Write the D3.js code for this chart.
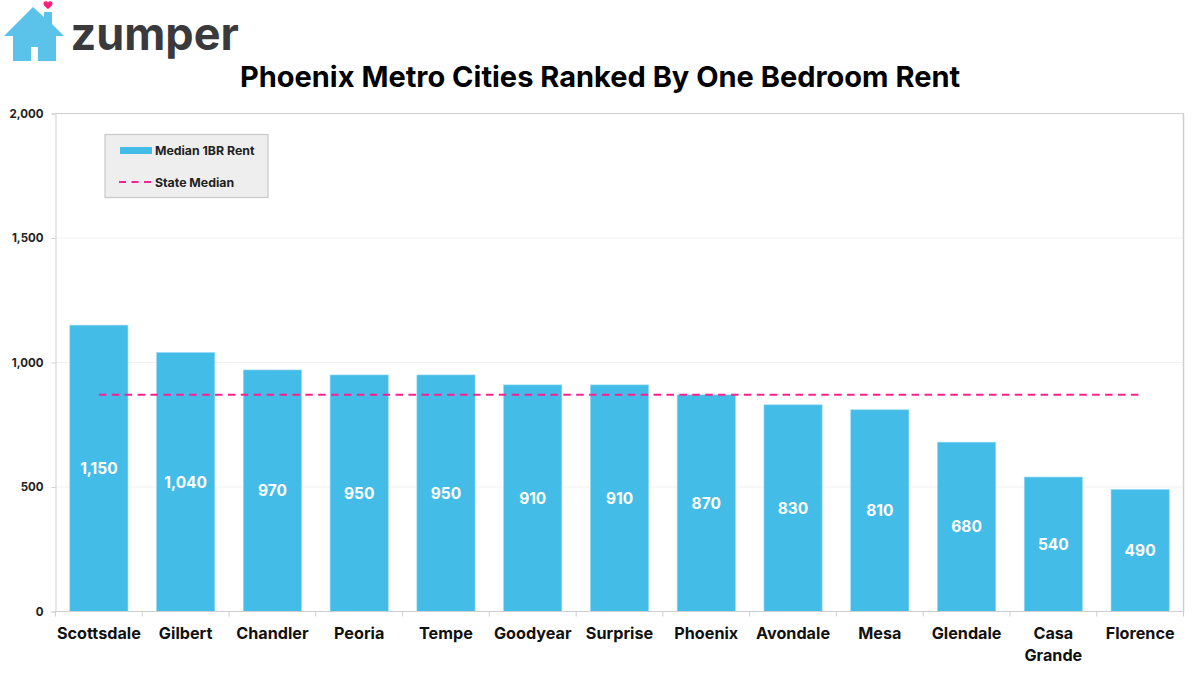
<!DOCTYPE html>
<html>
<head>
<meta charset="utf-8">
<script src="https://cdnjs.cloudflare.com/ajax/libs/d3/7.8.5/d3.min.js"></script>
<style>
html,body{margin:0;padding:0;background:#fff}
svg{display:block}
text{font-family:Inter,"Open Sans",sans-serif;font-weight:700;fill:#111}
</style>
</head>
<body>
<svg id="chart" width="1200" height="675"></svg>
<script>
const cities = ["Scottsdale","Gilbert","Chandler","Peoria","Tempe","Goodyear","Surprise","Phoenix","Avondale","Mesa","Glendale","Casa Grande","Florence"];
const rents = [1150,1040,970,950,950,910,910,870,830,810,680,540,490];
const stateMedian = 870;
const yTicks = [0,500,1000,1500,2000];
const chartTitle = "Phoenix Metro Cities Ranked By One Bedroom Rent";
const legendLabels = ["Median 1BR Rent","State Median"];

const barColor = "#44bce8", lineColor = "#ff1f8f", axisColor = "#cfcfcf";
const plotLeft = 55.5, plotRight = 1183.5, plotTop = 113.5, plotBottom = 611.5;

const svg = d3.select("#chart");
const x = d3.scaleBand().domain(cities).range([plotLeft,plotRight]).paddingInner(0.33).paddingOuter(0.165);
const y = d3.scaleLinear().domain([0,2000]).range([plotBottom,plotTop]);

// Horizontal gridlines
svg.append("g").selectAll("line").data(yTicks.filter(d=>d>0&&d<2000)).join("line")
  .attr("x1",plotLeft).attr("x2",plotRight).attr("y1",d=>y(d)).attr("y2",d=>y(d))
  .attr("stroke","#f1f1f1").attr("stroke-width",1);

// Frame along the top and right of the plot
svg.append("line").attr("x1",plotLeft).attr("x2",plotRight).attr("y1",plotTop).attr("y2",plotTop).attr("stroke",axisColor).attr("stroke-width",1);
svg.append("line").attr("x1",plotRight).attr("x2",plotRight).attr("y1",plotTop).attr("y2",plotBottom).attr("stroke",axisColor).attr("stroke-width",1.5);

// Bars
svg.append("g").selectAll("rect").data(rents).join("rect")
  .attr("x",(d,i)=>x(cities[i])).attr("width",x.bandwidth())
  .attr("y",d=>y(d)).attr("height",d=>y(0)-y(d))
  .attr("fill",barColor).attr("stroke","#8fd8f2").attr("stroke-width",0.6);

// Value labels at the middle of each bar
svg.append("g").selectAll("text").data(rents).join("text")
  .attr("x",(d,i)=>x(cities[i])+x.bandwidth()/2)
  .attr("y",d=>y(d/2)+5.5)
  .attr("text-anchor","middle").attr("font-size",15.5)
  .style("fill","#fff").text(d=>d3.format(",")(d));

// State median reference line
const medianLine = d3.line().x(d=>d).y(()=>y(stateMedian));
svg.append("path")
  .attr("d",medianLine([x(cities[0])+x.bandwidth()/2, x(cities[12])+x.bandwidth()/2]))
  .attr("fill","none").attr("stroke",lineColor).attr("stroke-width",2).attr("stroke-dasharray","7.5,5.4");

// Y axis
const yAxis = d3.axisLeft(y).tickValues(yTicks).tickSize(4).tickPadding(8).tickFormat(d3.format(","));
const gy = svg.append("g").attr("transform",`translate(${plotLeft},0)`).call(yAxis);
gy.selectAll("path,line").attr("stroke",axisColor).attr("stroke-width",1);
gy.selectAll("text").attr("font-size",11.5).style("fill","#222");

// X axis with ticks on the band edges
const gx = svg.append("g");
gx.append("line").attr("x1",plotLeft).attr("x2",plotRight).attr("y1",plotBottom).attr("y2",plotBottom).attr("stroke",axisColor).attr("stroke-width",1.2);
gx.selectAll("line.edge").data(d3.range(cities.length+1)).join("line").attr("class","edge")
  .attr("x1",i=>plotLeft+i*x.step()).attr("x2",i=>plotLeft+i*x.step())
  .attr("y1",plotBottom).attr("y2",plotBottom+5).attr("stroke",axisColor);
gx.selectAll("text").data(cities).join("text")
  .attr("x",d=>x(d)+x.bandwidth()/2).attr("y",639)
  .attr("text-anchor","middle").attr("font-size",16.2)
  .each(function(d){
    const t = d3.select(this), words = d.split(" ");
    words.forEach((w,i)=>t.append("tspan").attr("x",x(d)+x.bandwidth()/2).attr("dy",i?21.5:0).text(w));
  });

// Title
svg.append("text").attr("x",600).attr("y",87).attr("text-anchor","middle")
  .attr("font-size",29).style("fill","#000").text(chartTitle);

// Legend
const lg = svg.append("g");
lg.append("rect").attr("x",105).attr("y",134.5).attr("width",163).attr("height",63)
  .attr("fill","#eeeeee").attr("stroke","#c8c8c8").attr("stroke-width",1.2);
lg.append("rect").attr("x",120).attr("y",147).attr("width",32).attr("height",7).attr("fill",barColor);
lg.append("line").attr("x1",119).attr("x2",152).attr("y1",182).attr("y2",182)
  .attr("stroke",lineColor).attr("stroke-width",2).attr("stroke-dasharray","7,5.5");
lg.selectAll("text").data(legendLabels).join("text")
  .attr("x",155).attr("y",(d,i)=>155+i*32).attr("font-size",12.3).style("fill","#222").text(d=>d);

// Brand mark: house with a heart over the chimney, then the wordmark
const logo = svg.append("g");
logo.append("path").attr("fill","#5bc2ea")
  .attr("d","M4 36 L33 7 L44 17 L44 12 L52 12 L52 24 L64 36 L56 36 L56 61 L38 61 L38 47 L31 47 L31 61 L13 61 L13 36 Z");
logo.append("path").attr("fill","#ff1f78")
  .attr("d","M48 9 C44 6 43.5 4.5 43.5 3.5 C43.5 1 47 0.5 48 2.8 C49 0.5 52.5 1 52.5 3.5 C52.5 4.5 52 6 48 9 Z");
logo.append("text").attr("x",70.5).attr("y",50).attr("font-size",45)
  .style("fill","#3a3a3c").text("zumper");
</script>
</body>
</html>
